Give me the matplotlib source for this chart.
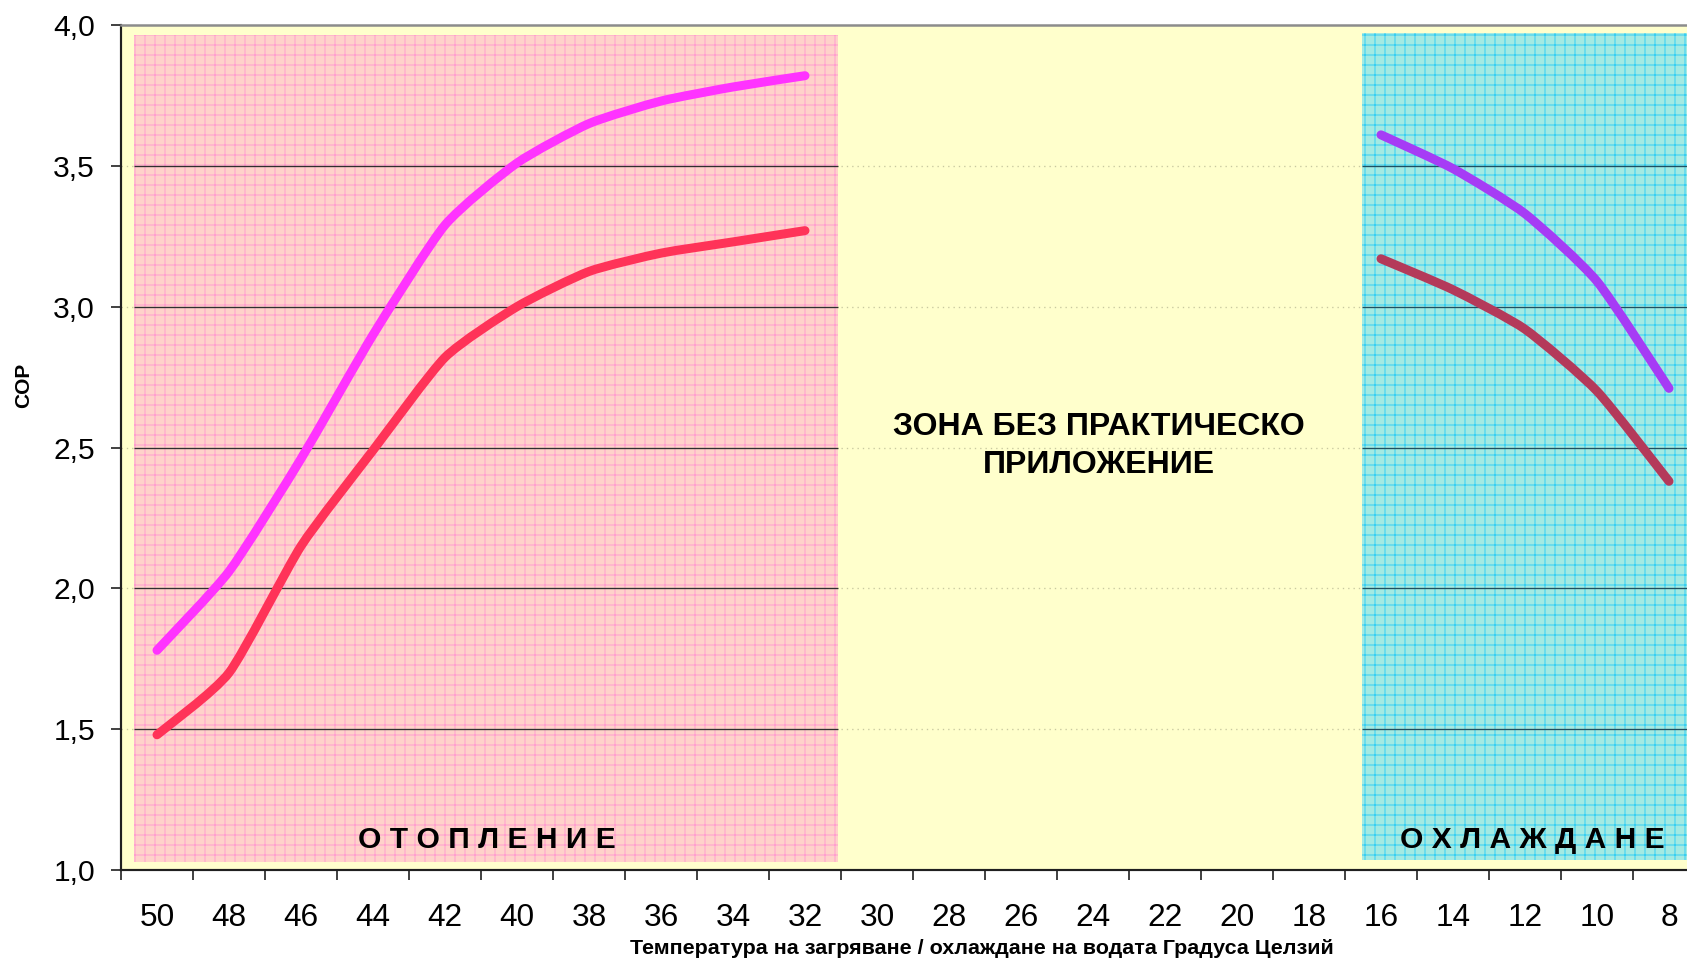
import matplotlib
matplotlib.use("Agg")
import matplotlib.pyplot as plt
from matplotlib.patches import Rectangle, PathPatch
from matplotlib.path import Path
import numpy as np

plt.rcParams['font.family'] = ['Liberation Sans', 'DejaVu Sans']
plt.rcParams['hatch.linewidth'] = 0.6

# ---- data ----
categories = [50, 48, 46, 44, 42, 40, 38, 36, 34, 32, 30, 28, 26, 24, 22, 20, 18, 16, 14, 12, 10, 8]
heat_temps = [50, 48, 46, 44, 42, 40, 38, 36, 34, 32]
heat_upper = [1.78, 2.06, 2.46, 2.90, 3.29, 3.51, 3.65, 3.73, 3.78, 3.82]
heat_lower = [1.48, 1.70, 2.15, 2.49, 2.82, 3.00, 3.125, 3.19, 3.23, 3.27]
cool_temps = [16, 14, 12, 10, 8]
cool_upper = [3.61, 3.49, 3.33, 3.09, 2.71]
cool_lower = [3.17, 3.06, 2.92, 2.70, 2.38]
y_ticks = [1.0, 1.5, 2.0, 2.5, 3.0, 3.5, 4.0]
y_tick_labels = ["1,0", "1,5", "2,0", "2,5", "3,0", "3,5", "4,0"]

W, H, DPI = 1687, 961, 120
fig = plt.figure(figsize=(W / DPI, H / DPI), dpi=DPI)
fig.patch.set_facecolor('white')

ax_left, ax_right = 121 / W, 1705 / W
ax_bottom, ax_top = (H - 870) / H, (H - 25) / H
ax = fig.add_axes([ax_left, ax_bottom, ax_right - ax_left, ax_top - ax_bottom])
ax.set_facecolor('#FFFFCC')

idx = {c: i for i, c in enumerate(categories)}
n = len(categories)
ax.set_xlim(-0.5, n - 0.5)
ax.set_ylim(1.0, 4.0)

# regions
heat_x0, heat_x1, heat_y0, heat_y1 = -0.32, 9.46, 1.028, 3.965
cool_x0, cool_x1, cool_y0, cool_y1 = 16.74, n - 0.5, 1.035, 3.972

# faint dotted grid in the yellow zone
for y in y_ticks[1:-1]:
    ax.axhline(y, color='#C8C8A0', lw=0.8, ls=(0, (1, 3)), zorder=0.5)

ax.add_patch(Rectangle((heat_x0, heat_y0), heat_x1 - heat_x0, heat_y1 - heat_y0,
                       facecolor='#FFD2CA', edgecolor='#FF9FCF', hatch='++', lw=0, zorder=1))
ax.add_patch(Rectangle((cool_x0, cool_y0), cool_x1 - cool_x0, cool_y1 - cool_y0,
                       facecolor='#A4EAE2', edgecolor='#38CFF2', hatch='++', lw=0, zorder=1))

# solid grid lines across the coloured zones
for y in y_ticks[1:-1]:
    ax.hlines(y, heat_x0, heat_x1, color='#303030', lw=0.8, zorder=1.5)
    ax.hlines(y, cool_x0, cool_x1, color='#205060', lw=0.8, zorder=1.5)


def smooth_path(xs, ys, t=0.1):
    """Gently smoothed curve through the given points, as cubic Bezier segments."""
    pts = np.column_stack([xs, ys]).astype(float)
    verts = [pts[0]]
    codes = [Path.MOVETO]
    k = len(pts)
    for i in range(k - 1):
        p0 = pts[i - 1] if i > 0 else pts[i]
        p1 = pts[i]
        p2 = pts[i + 1]
        p3 = pts[i + 2] if i + 2 < k else pts[i + 1]
        c1 = p1 + (p2 - p0) * t
        c2 = p2 - (p3 - p1) * t
        verts += [c1, c2, p2]
        codes += [Path.CURVE4] * 3
    return Path(verts, codes)


hx = [idx[t] for t in heat_temps]
cx = [idx[t] for t in cool_temps]
lw = 5.4
for xs, ys, col in [(hx, heat_upper, '#FF33FF'), (hx, heat_lower, '#FF3358'),
                    (cx, cool_upper, '#A63CF5'), (cx, cool_lower, '#B43A5A')]:
    ax.add_patch(PathPatch(smooth_path(xs, ys), facecolor='none', edgecolor=col, lw=lw,
                           capstyle='round', joinstyle='round', zorder=3))

# texts inside
ax.text(13.08, 2.505, "ЗОНА БЕЗ ПРАКТИЧЕСКО\nПРИЛОЖЕНИЕ", ha='center', va='center',
        fontsize=19.2, fontweight='bold', linespacing=1.32, zorder=4)
ax.text(4.58, 1.107, "О Т О П Л Е Н И Е", ha='center', va='center',
        fontsize=18, fontweight='bold', zorder=4)
ax.text(19.1, 1.107, "О Х Л А Ж Д А Н Е", ha='center', va='center',
        fontsize=18, fontweight='bold', zorder=4)

# axes styling
ax.spines['right'].set_visible(False)
ax.spines['top'].set_color('#8C8C8C')
ax.spines['top'].set_linewidth(1.5)
ax.spines['left'].set_color('#202020')
ax.spines['left'].set_linewidth(1.3)
ax.spines['bottom'].set_color('#202020')
ax.spines['bottom'].set_linewidth(1.3)
for s in ax.spines.values():
    s.set_zorder(5)

ax.set_xticks(np.arange(-0.5, n, 1.0))
ax.set_xticklabels([])
ax.set_xticks(np.arange(n), minor=True)
ax.set_xticklabels([str(c) for c in categories], minor=True, fontsize=19)
ax.tick_params(axis='x', which='major', direction='out', length=6, width=1.0, color='#202020')
ax.tick_params(axis='x', which='minor', length=0, pad=20)
ax.set_yticks(y_ticks)
ax.set_yticklabels(y_tick_labels, fontsize=18)
ax.tick_params(axis='y', direction='out', length=6, width=1.0, color='#202020', pad=9.6)

fig.text(982 / W, 1 - 949 / H, "Температура на загряване / охлаждане на водата Градуса Целзий",
         ha='center', va='center', fontsize=12.9, fontweight='bold')
fig.text(24 / W, 1 - 385 / H, "COP", ha='center', va='center', rotation=90,
         fontsize=12.5, fontweight='bold')

fig.savefig("out.png", dpi=DPI)
